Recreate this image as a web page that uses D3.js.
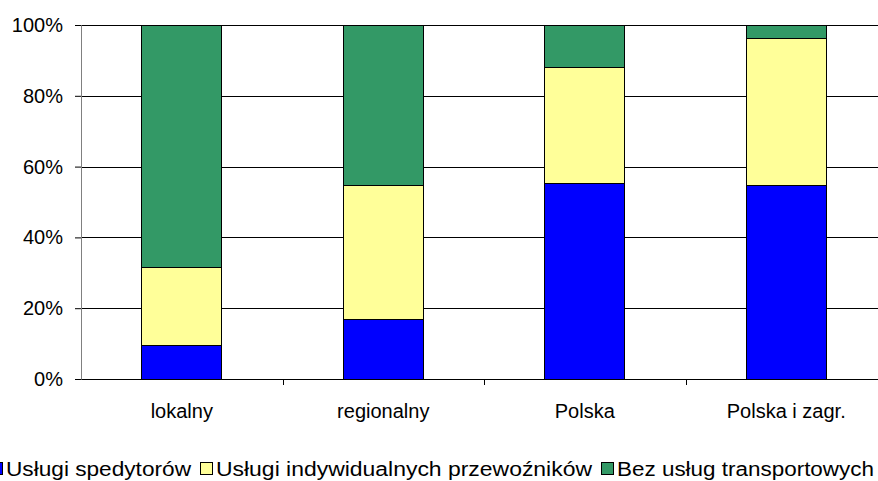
<!DOCTYPE html>
<html>
<head>
<meta charset="utf-8">
<script src="https://cdn.jsdelivr.net/npm/d3@7"></script>
<style>
  body { margin: 0; background: #fff; }
  svg text { font-family: "Liberation Sans", Arial, sans-serif; fill: #000; }
</style>
</head>
<body>
<script>
var categories = ["lokalny", "regionalny", "Polska", "Polska i zagr."];
var seriesNames = ["Usługi spedytorów", "Usługi indywidualnych przewoźników", "Bez usług transportowych"];
var spedytorzy = [9.5, 17.0, 55.4, 54.8];
var przewoznicy = [22.1, 37.8, 32.6, 41.6];
var bezUslug = [68.4, 45.2, 12.0, 3.6];
var yTicks = [0, 20, 40, 60, 80, 100];
var colors = ["#0000ff", "#ffff99", "#339966"];

var W = 878, H = 481;
var margin = {top: 25, left: 81, right: -9, bottom: 102};
var width = W - margin.left - margin.right,
    height = H - margin.top - margin.bottom;

var svg = d3.select("body").append("svg")
    .attr("width", W)
    .attr("height", H);

var g = svg.append("g")
    .attr("transform", "translate(" + margin.left + "," + margin.top + ")");

var rows = categories.map(function (c, i) {
    return {cat: c, s0: spedytorzy[i], s1: przewoznicy[i], s2: bezUslug[i]};
});
var stack = d3.stack().keys(["s0", "s1", "s2"]);
var layers = stack(rows);

var xOuter = d3.scaleBand().domain(categories).range([0, width]);

var y = d3.scaleLinear().domain([0, 100]).range([height, 0]);

// gridlines
g.append("g")
    .selectAll("line")
    .data(yTicks.filter(function (t) { return t > 0; }))
    .enter().append("line")
    .attr("x1", 0).attr("x2", width)
    .attr("y1", function (d) { return Math.round(y(d)) + 0.5; })
    .attr("y2", function (d) { return Math.round(y(d)) + 0.5; })
    .attr("stroke", "#000")
    .attr("stroke-width", 1);

// bars
g.selectAll(".layer")
    .data(layers)
    .enter().append("g")
    .attr("fill", function (d, i) { return colors[i]; })
    .selectAll("rect")
    .data(function (d) { return d; })
    .enter().append("rect")
    .attr("x", function (d) { return Math.round(xOuter(d.data.cat) + xOuter.bandwidth() * 0.3) + 0.5; })
    .attr("width", 80)
    .attr("y", function (d) { return Math.round(y(d[1])) + 0.5; })
    .attr("height", function (d) { return Math.round(y(d[0])) - Math.round(y(d[1])); })
    .attr("stroke", "#000")
    .attr("stroke-width", 1);

// y axis
var yAxis = g.append("g")
    .call(d3.axisLeft(y).tickValues(yTicks).tickFormat(function (d) { return d + "%"; }).tickSize(6).tickPadding(12));
yAxis.select(".domain").attr("stroke", "#808080");
yAxis.selectAll(".tick line").attr("stroke", "#000");
yAxis.selectAll("text").style("font-size", "20px");

// x axis
var xAxis = g.append("g")
    .attr("transform", "translate(0," + height + ")")
    .call(d3.axisBottom(xOuter).tickSize(0).tickPadding(25));
xAxis.select(".domain").attr("stroke", "#000");
xAxis.selectAll("text").style("font-size", "20px");
g.append("g")
    .selectAll("line")
    .data(categories.slice(1))
    .enter().append("line")
    .attr("x1", function (d) { return Math.round(xOuter(d)) + 0.5; })
    .attr("x2", function (d) { return Math.round(xOuter(d)) + 0.5; })
    .attr("y1", height).attr("y2", height + 6)
    .attr("stroke", "#000");

// legend
var legendX = [-10, 200, 601];
var legendW = [185, 376, 257];
var leg = svg.append("g").attr("transform", "translate(0,462)");
seriesNames.forEach(function (name, i) {
    leg.append("rect")
        .attr("x", legendX[i] + 0.5).attr("y", 0.5)
        .attr("width", 12).attr("height", 12)
        .attr("fill", colors[i])
        .attr("stroke", "#000");
    leg.append("text")
        .attr("x", legendX[i] + 16)
        .attr("y", 14)
        .attr("textLength", legendW[i])
        .attr("lengthAdjust", "spacingAndGlyphs")
        .style("font-size", "20px")
        .text(name);
});
</script>
</body>
</html>
